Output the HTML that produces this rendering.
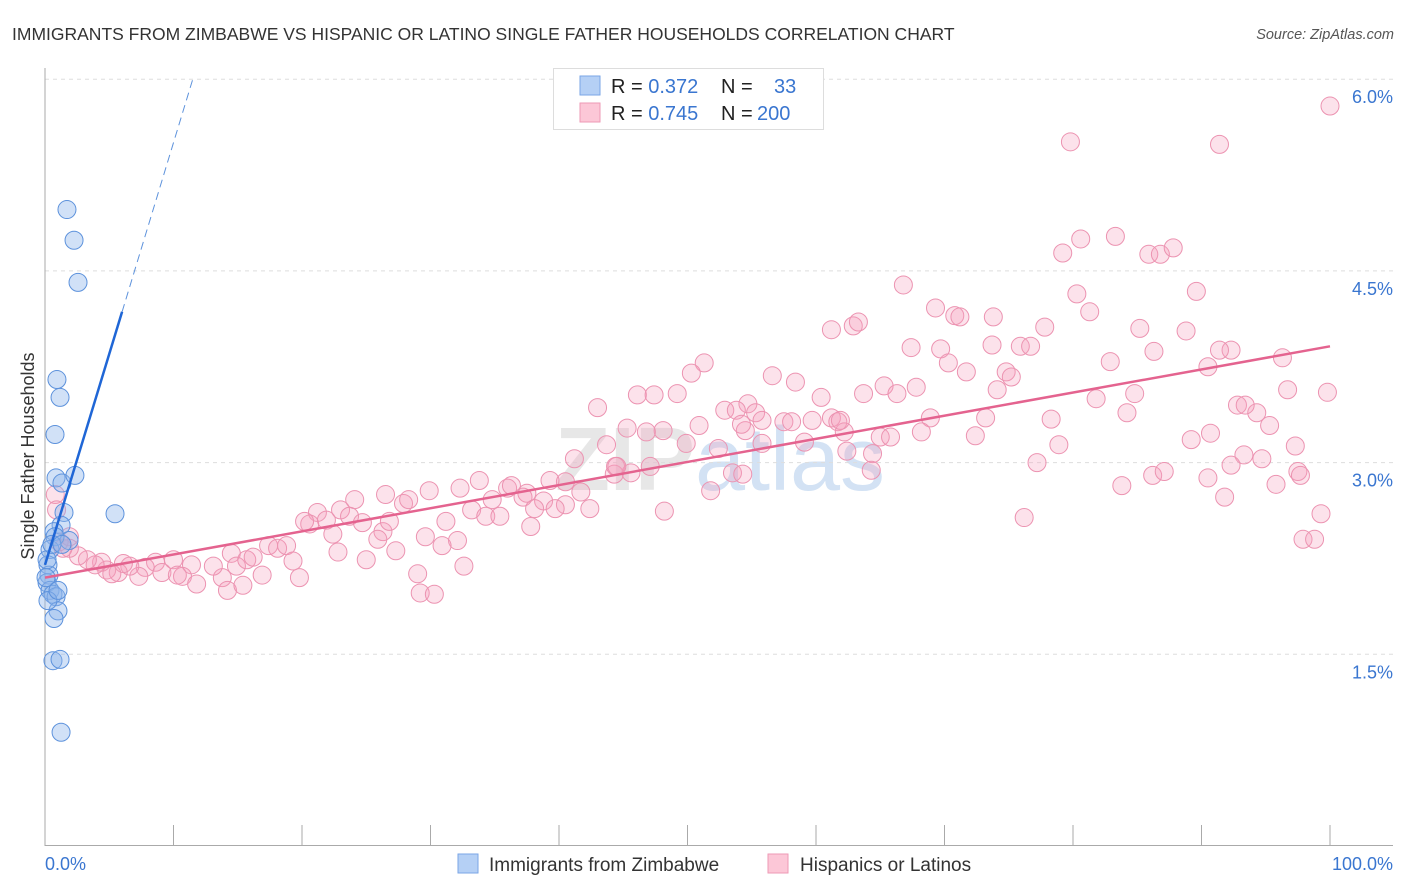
<!DOCTYPE html>
<html><head><meta charset="utf-8"><style>
body{margin:0;background:#fff;font-family:"Liberation Sans",sans-serif;}
#wrap{position:relative;width:1406px;height:892px;overflow:hidden}
</style></head><body>
<div id="wrap">
<svg id="svg" width="1406" height="892" xmlns="http://www.w3.org/2000/svg">
<text x="12" y="40" font-size="17.5" fill="#333">IMMIGRANTS FROM ZIMBABWE VS HISPANIC OR LATINO SINGLE FATHER HOUSEHOLDS CORRELATION CHART</text>
<text x="1394" y="39" font-size="14.5" fill="#555" font-style="italic" text-anchor="end">Source: ZipAtlas.com</text>
<text x="720" y="490" font-size="90" fill="#ccc" opacity="0.45" text-anchor="middle" font-weight="bold">ZIP<tspan fill="#9ec0e8" font-weight="normal">atlas</tspan></text>
<g id="grid"></g><g id="axes"></g><g id="marks"></g>
<text transform="translate(34,456) rotate(-90)" font-size="18" fill="#333" text-anchor="middle">Single Father Households</text>
<g>
<rect x="553.5" y="68.5" width="270" height="61" fill="#fff" stroke="#ddd"/>
<rect x="580" y="76" width="20" height="19" fill="#b5d0f5" stroke="#7aa6e6"/>
<rect x="580" y="103" width="20" height="19" fill="#fcc7d7" stroke="#ee9ab6"/>
<text x="611" y="93" font-size="20" fill="#222">R = <tspan fill="#3a76d0">0.372</tspan><tspan x="721">N =</tspan><tspan x="774" fill="#3a76d0">33</tspan></text>
<text x="611" y="120" font-size="20" fill="#222">R = <tspan fill="#3a76d0">0.745</tspan><tspan x="721">N =</tspan><tspan x="757" fill="#3a76d0">200</tspan></text>
</g>
<g>
<rect x="458" y="854" width="20" height="19" fill="#b5d0f5" stroke="#7aa6e6"/>
<text x="489" y="871" font-size="19" fill="#333">Immigrants from Zimbabwe</text>
<rect x="768" y="854" width="20" height="19" fill="#fcc7d7" stroke="#ee9ab6"/>
<text x="800" y="871" font-size="19" fill="#333">Hispanics or Latinos</text>
</g>
</svg></div>
<script>
const blueX=[1.71,2.26,2.57,0.93,1.17,0.78,0.86,1.32,2.33,1.48,5.45,1.25,0.70,1.87,0.78,0.39,0.23,0.31,0.16,0.39,0.62,0.86,1.01,0.70,0.62,1.17,1.25,0.16,0.54,1.32,0.23,0.08,1.01];
const blueY=[4.98,4.74,4.41,3.65,3.51,3.22,2.88,2.84,2.90,2.61,2.60,2.51,2.46,2.39,2.42,2.32,2.20,2.12,2.06,2.00,1.97,1.95,1.84,1.78,1.45,1.46,0.89,2.24,2.36,2.36,1.92,2.10,2.00];
const pinkX=[79.8,91.4,100.0,80.6,83.3,79.2,85.9,86.8,87.8,66.8,80.3,89.6,69.3,70.8,71.2,81.3,61.2,62.9,63.3,73.8,77.8,85.2,88.8,67.4,69.7,73.7,75.9,76.7,82.9,86.3,92.3,91.4,96.3,90.5,51.3,50.3,56.6,58.4,70.3,71.7,74.8,75.2,74.1,46.1,49.2,60.4,63.7,65.3,66.3,67.8,81.8,84.8,96.7,99.8,43.0,52.9,54.7,53.8,55.3,55.8,57.5,58.1,59.7,61.2,61.7,62.2,68.9,73.2,84.2,92.8,94.3,95.3,78.3,45.3,48.1,50.9,54.5,59.1,65.0,65.8,68.2,72.4,78.9,89.2,90.7,41.2,43.7,46.8,49.9,52.4,55.8,62.4,64.4,77.2,93.3,94.7,97.3,86.2,44.3,45.6,47.1,44.4,53.5,54.3,64.3,97.5,87.1,51.8,33.8,36.0,36.3,37.5,39.3,40.5,41.7,37.2,34.8,29.9,32.3,24.1,26.5,27.9,28.3,38.8,40.5,39.7,38.1,42.4,48.2,33.2,34.3,35.4,76.2,83.8,91.8,97.7,95.8,99.3,97.9,98.8,21.2,20.6,20.2,21.9,23.0,23.7,24.7,26.3,26.8,31.2,37.8,22.4,25.9,29.6,32.1,30.9,25.0,27.3,22.8,17.4,18.1,18.8,19.3,14.5,14.9,15.7,16.2,16.9,13.8,14.2,15.4,13.1,11.4,10.0,8.6,7.8,9.1,7.3,6.6,5.7,4.8,4.4,3.9,3.3,2.6,1.9,1.4,1.1,1.9,0.8,0.9,6.1,5.2,10.7,10.3,11.8,19.8,29.0,32.6,29.2,30.3,90.5,92.3,54.2,47.4,44.5,61.9,93.4];
const pinkY=[5.51,5.49,5.79,4.75,4.77,4.64,4.63,4.63,4.68,4.39,4.32,4.34,4.21,4.15,4.14,4.18,4.04,4.07,4.10,4.14,4.06,4.05,4.03,3.90,3.89,3.92,3.91,3.91,3.79,3.87,3.88,3.88,3.82,3.75,3.78,3.70,3.68,3.63,3.78,3.71,3.71,3.67,3.57,3.53,3.54,3.51,3.54,3.60,3.54,3.59,3.50,3.54,3.57,3.55,3.43,3.41,3.46,3.41,3.39,3.33,3.32,3.32,3.33,3.35,3.32,3.24,3.35,3.35,3.39,3.45,3.39,3.29,3.34,3.27,3.25,3.29,3.25,3.16,3.20,3.20,3.24,3.21,3.14,3.18,3.23,3.03,3.14,3.24,3.15,3.11,3.15,3.09,3.07,3.00,3.06,3.03,3.13,2.90,2.91,2.92,2.97,2.97,2.92,2.91,2.94,2.93,2.93,2.78,2.86,2.80,2.82,2.76,2.86,2.85,2.77,2.73,2.71,2.78,2.80,2.71,2.75,2.68,2.71,2.70,2.67,2.64,2.64,2.64,2.62,2.63,2.58,2.58,2.57,2.82,2.73,2.90,2.83,2.60,2.40,2.40,2.61,2.52,2.54,2.55,2.63,2.58,2.53,2.46,2.54,2.54,2.50,2.44,2.40,2.42,2.39,2.35,2.24,2.31,2.30,2.35,2.33,2.35,2.23,2.29,2.19,2.24,2.26,2.12,2.10,2.00,2.04,2.19,2.20,2.24,2.22,2.18,2.14,2.11,2.19,2.14,2.16,2.22,2.20,2.24,2.27,2.33,2.33,2.38,2.42,2.75,2.63,2.21,2.13,2.11,2.12,2.05,2.10,2.13,2.19,1.98,1.97,2.88,2.98,3.30,3.53,2.97,3.33,3.45];
const yTicks=[1.5,3.0,4.5,6.0];
const yTickLabels=["1.5%","3.0%","4.5%","6.0%"];
const blueLine=[[0,2.20],[6.0,4.18]];
const blueDash=[[6.0,4.18],[11.5,6.0]];
const pinkLine=[[0,2.10],[100,3.91]];
const NS="http://www.w3.org/2000/svg";
const X=v=>45+v*12.85, Y=v=>846-v*127.8;
function mk(tag,attrs,parent){const e=document.createElementNS(NS,tag);for(const k in attrs)e.setAttribute(k,attrs[k]);parent.appendChild(e);return e;}
const grid=document.getElementById('grid'),axes=document.getElementById('axes'),marks=document.getElementById('marks');
yTicks.forEach((t,i)=>{
 const l=mk('line',{x1:45,x2:1393,y1:Y(t),y2:Y(t),stroke:'#ddd','stroke-dasharray':'4 4'},grid);
 
 
 const tx=mk('text',{x:1393,y:Y(t)+24,'font-size':18,fill:'#3a76d0','text-anchor':'end'},axes);
 tx.textContent=yTickLabels[i];
 
 
});
let a=mk('line',{x1:45,x2:45,y1:68,y2:846,stroke:'#aaa'},axes);


a=mk('line',{x1:45,x2:1393,y1:845.5,y2:845.5,stroke:'#aaa'},axes);


for(let i=0;i<=10;i++){const t=mk('line',{x1:X(i*10),x2:X(i*10),y1:825,y2:846,stroke:'#aaa'},axes);
 
 }
let xl=mk('text',{x:45,y:870,'font-size':18,fill:'#3a76d0'},axes);xl.textContent='0.0%';


xl=mk('text',{x:1393,y:870,'font-size':18,fill:'#3a76d0','text-anchor':'end'},axes);xl.textContent='100.0%';


pinkX.forEach((x,i)=>{const c=mk('circle',{cx:X(x),cy:Y(pinkY[i]),r:9,fill:'rgba(245,160,188,0.3)',stroke:'#ec93b1','stroke-width':1},marks);
 
 });
blueX.forEach((x,i)=>{const c=mk('circle',{cx:X(x),cy:Y(blueY[i]),r:9,fill:'rgba(140,180,235,0.4)',stroke:'#5d92dc','stroke-width':1},marks);
 
 });
let ln=mk('line',{x1:X(pinkLine[0][0]),y1:Y(pinkLine[0][1]),x2:X(pinkLine[1][0]),y2:Y(pinkLine[1][1]),stroke:'#e4638f','stroke-width':2.5},marks);


ln=mk('line',{x1:X(blueLine[0][0]),y1:Y(blueLine[0][1]),x2:X(blueLine[1][0]),y2:Y(blueLine[1][1]),stroke:'#1f66d6','stroke-width':2.5},marks);


ln=mk('line',{x1:X(blueDash[0][0]),y1:Y(blueDash[0][1]),x2:X(blueDash[1][0]),y2:Y(blueDash[1][1]),stroke:'#5d92dc','stroke-width':1,'stroke-dasharray':'8 5'},marks);


</script>
</body></html>
